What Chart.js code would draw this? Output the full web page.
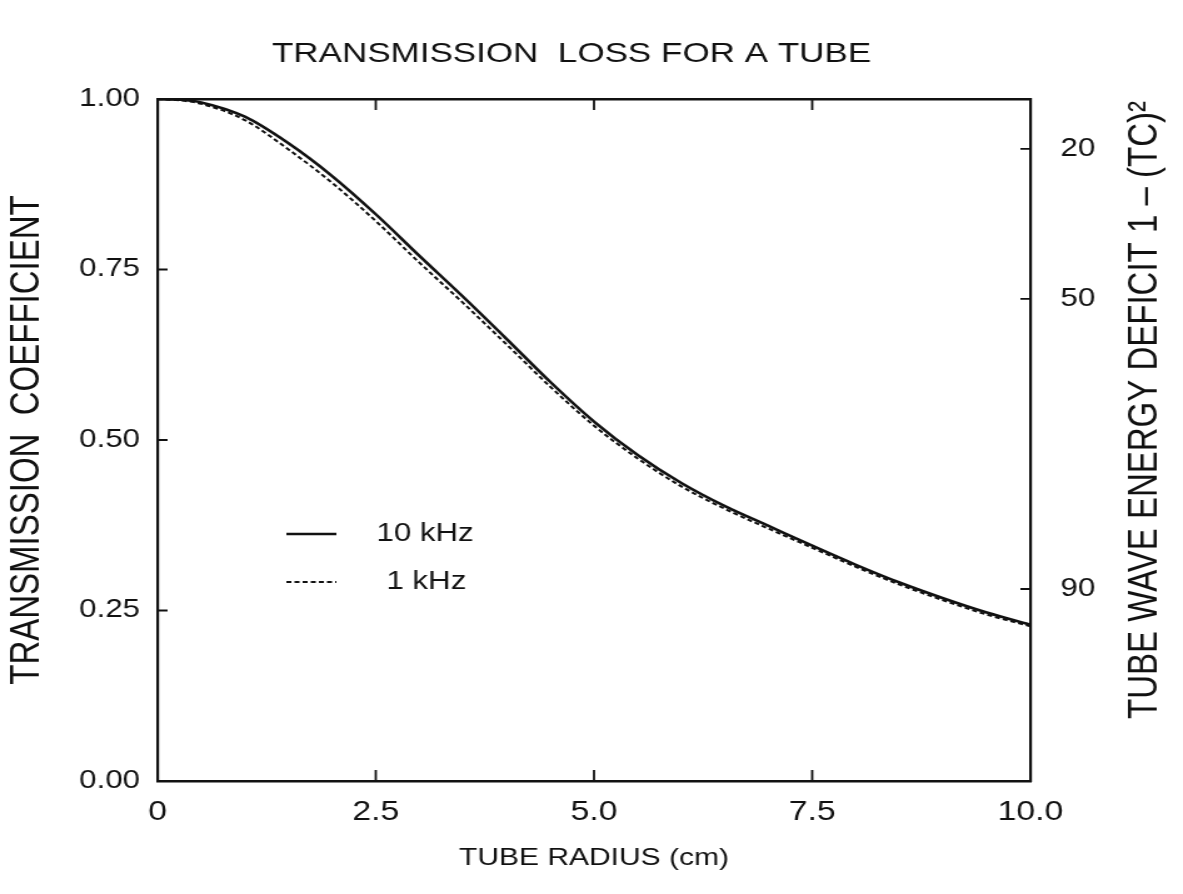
<!DOCTYPE html>
<html>
<head>
<meta charset="utf-8">
<title>Transmission loss for a tube</title>
<script src="https://cdn.jsdelivr.net/npm/chart.js@4.4.1/dist/chart.umd.min.js"></script>
<style>
    html, body { margin: 0; padding: 0; background: #fff; overflow: hidden; }
    /* the scanned figure is wider than it is tall, so the drawing is stretched a bit sideways */
    #tubeChart { display: block; transform: scaleX(1.2505); transform-origin: 0 0; }
</style>
</head>
<body>
<canvas id="tubeChart" width="946" height="894"></canvas>
<script>
// tube radius (cm)
const radius = [0, 0.25, 0.5, 1.0, 1.5, 2.0, 2.5, 3.0, 3.5, 4.0, 4.5, 5.0, 5.5, 6.0, 6.5, 7.0, 7.5, 8.0, 8.5, 9.0, 9.5, 10.0];

// transmission coefficient
const tc10kHz = [1.000, 0.999, 0.995, 0.974, 0.935, 0.887, 0.831, 0.770, 0.710, 0.648, 0.585, 0.527, 0.478, 0.437, 0.403, 0.374, 0.345, 0.317, 0.291, 0.268, 0.247, 0.229];
const tc1kHz = [1.000, 0.998, 0.993, 0.969, 0.926, 0.877, 0.821, 0.760, 0.701, 0.640, 0.578, 0.521, 0.473, 0.432, 0.399, 0.370, 0.342, 0.314, 0.288, 0.265, 0.244, 0.227];

// tick labels
const xTickLabels = ["0", "2.5", "5.0", "7.5", "10.0"];
const yTickLabels = ["0.00", "0.25", "0.50", "0.75", "1.00"];

// right axis: energy deficit (%) and where the figure puts it on the TC scale
const deficitLabels = ["20", "50", "90"];
const deficitAtTC = [0.927, 0.707, 0.2815];

const FONT = "'Liberation Sans', Arial, Helvetica, sans-serif";
const INK = "#111";

function toPoints(xs, ys) {
    return xs.map((x, i) => ({ x: x, y: ys[i] }));
}

// inward ticks, the right-hand title and the little key
const frameExtras = {
    id: "frameExtras",
    afterDraw(chart) {
        const ctx = chart.ctx;
        const a = chart.chartArea;
        const xs = chart.scales.x, ys = chart.scales.y, yr = chart.scales.yR;

        ctx.save();
        ctx.strokeStyle = INK;
        ctx.lineWidth = 1.8;
        ctx.beginPath();
        xs.ticks.forEach(t => {
            if (t.value <= xs.min || t.value >= xs.max) return;
            const px = xs.getPixelForValue(t.value);
            ctx.moveTo(px, a.bottom); ctx.lineTo(px, a.bottom - 11);
            ctx.moveTo(px, a.top); ctx.lineTo(px, a.top + 11);
        });
        ys.ticks.forEach(t => {
            if (t.value <= ys.min || t.value >= ys.max) return;
            const py = ys.getPixelForValue(t.value);
            ctx.moveTo(a.left, py); ctx.lineTo(a.left + 8, py);
        });
        yr.ticks.forEach(t => {
            const py = yr.getPixelForValue(t.value);
            ctx.moveTo(a.right, py); ctx.lineTo(a.right - 8, py);
        });
        ctx.stroke();

        // right axis title, reads bottom to top
        ctx.fillStyle = INK;
        ctx.font = "33px " + FONT;
        ctx.textAlign = "center";
        ctx.textBaseline = "middle";
        ctx.translate(916, 410);
        ctx.rotate(-Math.PI / 2);
        ctx.fillText("TUBE WAVE ENERGY DEFICIT 1 \u2013 (TC)\u00B2", 0, 0);
        ctx.restore();

        // key
        ctx.save();
        ctx.font = "25px " + FONT;
        ctx.fillStyle = INK;
        ctx.textBaseline = "middle";
        const rows = [{ y: 534, tx: 301 }, { y: 582, tx: 309 }];
        chart.data.datasets.forEach((ds, i) => {
            const r = rows[i];
            ctx.strokeStyle = ds.borderColor;
            ctx.lineWidth = ds.borderWidth;
            ctx.setLineDash(ds.borderDash || []);
            ctx.beginPath();
            ctx.moveTo(229, r.y);
            ctx.lineTo(269, r.y);
            ctx.stroke();
            ctx.fillText(ds.label, r.tx, r.y);
        });
        ctx.restore();
    }
};

const ctx = document.getElementById("tubeChart").getContext("2d");

new Chart(ctx, {
    type: "line",
    data: {
        datasets: [
            {
                label: "10 kHz",
                data: toPoints(radius, tc10kHz),
                borderColor: INK,
                borderWidth: 2.6,
                pointRadius: 0,
                cubicInterpolationMode: "monotone"
            },
            {
                label: "1 kHz",
                data: toPoints(radius, tc1kHz),
                borderColor: INK,
                borderWidth: 2,
                borderDash: [4, 2.5],
                pointRadius: 0,
                cubicInterpolationMode: "monotone"
            }
        ]
    },
    options: {
        responsive: false,
        animation: false,
        devicePixelRatio: 1,
        layout: { padding: { left: 0, right: 32, top: 0, bottom: 0 } },
        plugins: {
            legend: { display: false },
            tooltip: { enabled: false },
            title: {
                display: true,
                text: "TRANSMISSION  LOSS FOR A TUBE",
                color: INK,
                font: { family: FONT, size: 28, weight: "normal" },
                padding: { top: 37, bottom: 28.4 }
            }
        },
        scales: {
            x: {
                type: "linear",
                position: "bottom",
                min: 0,
                max: 10,
                afterFit: s => { s.height = 113; },
                ticks: {
                    stepSize: 2.5,
                    color: INK,
                    padding: 15,
                    font: { family: FONT, size: 27 },
                    callback: (v, i) => xTickLabels[i]
                },
                grid: { display: false, drawTicks: false },
                border: { display: true, color: INK, width: 2.4 },
                title: {
                    display: true,
                    text: "TUBE RADIUS (cm)",
                    color: INK,
                    font: { family: FONT, size: 24 },
                    padding: { top: 0, bottom: 21.6 }
                }
            },
            xTop: {
                type: "linear",
                axis: "x",
                position: "top",
                min: 0,
                max: 10,
                afterFit: s => { s.height = 0; },
                ticks: { display: false },
                grid: { display: false, drawTicks: false },
                border: { display: true, color: INK, width: 2.4 }
            },
            y: {
                type: "linear",
                position: "left",
                min: 0,
                max: 1,
                afterFit: s => { s.width = 126; },
                ticks: {
                    stepSize: 0.25,
                    color: INK,
                    padding: 14,
                    font: { family: FONT, size: 25 },
                    callback: (v, i) => yTickLabels[i]
                },
                grid: { display: false, drawTicks: false },
                border: { display: true, color: INK, width: 2.2 },
                title: {
                    display: true,
                    text: "TRANSMISSION  COEFFICIENT",
                    color: INK,
                    font: { family: FONT, size: 33 },
                    padding: { top: 2.6, bottom: 0 }
                }
            },
            yR: {
                type: "linear",
                axis: "y",
                position: "right",
                min: 0,
                max: 1,
                afterFit: s => { s.width = 90; },
                afterBuildTicks: s => { s.ticks = deficitAtTC.map(v => ({ value: v })); },
                ticks: {
                    color: INK,
                    padding: 24,
                    font: { family: FONT, size: 25 },
                    callback: (v, i) => deficitLabels[i]
                },
                grid: { display: false, drawTicks: false },
                border: { display: true, color: INK, width: 2.2 }
            }
        }
    },
    plugins: [frameExtras]
});
</script>
</body>
</html>
